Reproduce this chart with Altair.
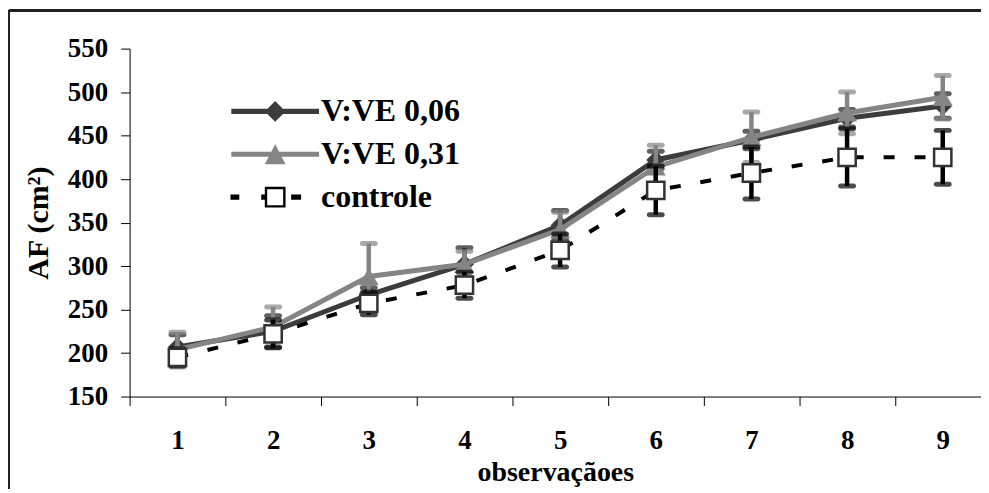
import altair as alt
import pandas as pd

# ---- data ----
obs = [1, 2, 3, 4, 5, 6, 7, 8, 9]
series_names = ["V:VE 0,06", "V:VE 0,31", "controle"]

dark_mean = [207, 225, 267, 302, 347, 422, 445, 470, 484]
dark_err = [14, 18, 8, 19, 17, 10, 10, 10, 14]
light_mean = [204, 230, 288, 302, 342, 414, 448, 476, 494]
light_err = [20, 23, 38, 15, 20, 25, 29, 24, 25]
ctrl_mean = [195, 222, 257, 278, 318, 387, 407, 425, 425]
ctrl_err = [10, 16, 13, 15, 19, 28, 30, 33, 31]

y_ticks = [150, 200, 250, 300, 350, 400, 450, 500, 550]
x_boundaries = [0.5, 1.5, 2.5, 3.5, 4.5, 5.5, 6.5, 7.5, 8.5]

means = {"V:VE 0,06": dark_mean, "V:VE 0,31": light_mean, "controle": ctrl_mean}
errs = {"V:VE 0,06": dark_err, "V:VE 0,31": light_err, "controle": ctrl_err}

rows = []
for s in series_names:
    for o, m, e in zip(obs, means[s], errs[s]):
        rows.append({"obs": o, "series": s, "mean": m, "lo": m - e, "hi": m + e})
df = pd.DataFrame(rows)

W, H = 854, 349
SERIF = "Liberation Serif"

xscale = alt.Scale(domain=[0.5, 9.4], nice=False, zero=False)
yscale = alt.Scale(domain=[150, 550], nice=False, zero=False)

x_axis = alt.Axis(
    values=x_boundaries,
    labelExpr="format(datum.value + 0.5, 'd')",
    labelOffset=48,
    labelFlush=False,
    labelOverlap=False,
    title="observaçãoes",
    tickSize=9,
    labelPadding=22,
    titlePadding=5,
    grid=False,
)
y_axis = alt.Axis(
    values=y_ticks,
    title="AF (cm²)",
    tickSize=9,
    labelPadding=13,
    titlePadding=14,
    titleFontSize=30,
    grid=False,
)

X = alt.X("obs:Q", scale=xscale, axis=x_axis)
Y = alt.Y("mean:Q", scale=yscale, axis=y_axis)

style = {
    "V:VE 0,06": dict(line="#3c3c3c", width=5, dash=None, shape="diamond",
                      fill="#3c3c3c", stroke="#3c3c3c", size=361, err="#1e1e1e"),
    "V:VE 0,31": dict(line="#858585", width=5, dash=None, shape="triangle-up",
                      fill="#858585", stroke="#858585", size=400, err="#858585"),
    "controle": dict(line="#000000", width=4, dash=[11, 20], shape="square",
                     fill="#ffffff", stroke="#333333", size=300, err="#000000"),
}

layers = []
base = alt.Chart(df)
for s in series_names:
    st = style[s]
    d = base.transform_filter(alt.datum.series == s)
    err_rule = d.mark_rule(color=st["err"], strokeWidth=4.5).encode(
        x=X, y=alt.Y("lo:Q", scale=yscale, axis=y_axis), y2="hi:Q")
    cap_hi = d.mark_tick(color=st["err"], orient="horizontal", size=18,
                         thickness=5, cornerRadius=2.5).encode(
        x=X, y=alt.Y("hi:Q", scale=yscale, axis=y_axis))
    cap_lo = d.mark_tick(color=st["err"], orient="horizontal", size=18,
                         thickness=5, cornerRadius=2.5).encode(
        x=X, y=alt.Y("lo:Q", scale=yscale, axis=y_axis))
    line_kw = dict(color=st["line"], strokeWidth=st["width"])
    if st["dash"]:
        line_kw["strokeDash"] = st["dash"]
    line = d.mark_line(**line_kw).encode(x=X, y=Y)
    pts = d.mark_point(shape=st["shape"], filled=True, fill=st["fill"],
                       stroke=st["stroke"], strokeWidth=2.5 if s == "controle" else 0,
                       size=st["size"], opacity=1).encode(x=X, y=Y)
    layers += [err_rule, cap_hi, cap_lo, line, pts]

# ---- legend (built-in legend with custom line+marker symbols) ----
legend_paths = [
    "M-5.5,-0.32H5.5V0.32H-5.5Z M0,-1.3L1.3,0L0,1.3L-1.3,0Z",
    "M-5.5,-0.32H5.5V0.32H-5.5Z M0,-1.25L1.3,1.25L-1.3,1.25Z",
    "M-5.6,-0.32H-4.5V0.32H-5.6Z M-1.75,-0.32H-1.3V0.32H-1.75Z "
    "M2,-0.32H3.25V0.32H2Z M-1.3,-1.3H1.3V1.3H-1.3Z M-1,-1V1H1V-1Z",
]
legend_colors = ["#3c3c3c", "#858585", "#000000"]
leg = alt.Legend(
    title=None, orient="none", legendX=130, legendY=47, direction="vertical",
    labelFont=SERIF, labelFontWeight="bold", labelFontSize=32, labelColor="black",
    labelOffset=30, rowPadding=11, symbolSize=256, symbolStrokeWidth=0,
    symbolOpacity=1, padding=0,
)
legend_layer = base.transform_filter("datum.obs > 100").mark_point(
    filled=True, size=256).encode(
    x=X, y=Y,
    shape=alt.Shape("series:N", scale=alt.Scale(domain=series_names, range=legend_paths), legend=leg),
    fill=alt.Fill("series:N", scale=alt.Scale(domain=series_names, range=legend_colors), legend=leg),
)
layers.append(legend_layer)

# ---- outer frame of the original figure ----
frame_left = alt.Chart(df).mark_rule(color="#222222", strokeWidth=2).encode(
    x=alt.value(-121), y=alt.value(-38), y2=alt.value(H + 100))
frame_top = alt.Chart(df).mark_rule(color="#222222", strokeWidth=2).encode(
    x=alt.value(-121), x2=alt.value(W + 10), y=alt.value(-38))
layers += [frame_left, frame_top]

chart = alt.layer(*layers).properties(
    width=W, height=H,
    autosize=alt.AutoSizeParams(type="none"),
    padding={"left": 122, "top": 40, "right": 0, "bottom": 92},
    background="white",
).configure_view(stroke=None).configure_axis(
    labelFont=SERIF, labelFontWeight="bold", labelFontSize=27, labelColor="black",
    titleFont=SERIF, titleFontWeight="bold", titleFontSize=28, titleColor="black",
    domainColor="black", tickColor="black", domainWidth=1, tickWidth=1,
)

chart.save("out.html", embed_options={"renderer": "svg", "actions": False})
